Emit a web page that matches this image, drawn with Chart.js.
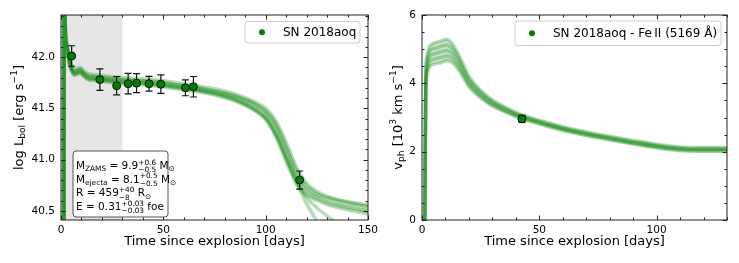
<!DOCTYPE html>
<html>
<head>
<meta charset="utf-8">
<script src="https://cdn.jsdelivr.net/npm/chart.js@4.4.0/dist/chart.umd.min.js"></script>
<style>
  body { margin: 0; background: #fff; overflow: hidden; }
  #wrap { position: relative; width: 739px; height: 263px; }
  canvas { position: absolute; top: 0; }
</style>
</head>
<body>
<div id="wrap">
  <canvas id="lumChart" width="392" height="263" style="left:0"></canvas>
  <canvas id="velChart" width="369" height="263" style="left:370px"></canvas>
</div>
<script>
// ---- luminosity panel ----
const lumDays = [1.4, 1.6, 2, 3, 4, 5, 6.5, 8, 9.5, 11, 13, 16, 20, 30, 45, 60, 75, 85, 95, 100, 105, 110, 115, 120, 125, 130, 140, 150];
const lumModelA = [39.5, 43.5, 42.35, 42.1, 41.97, 41.9, 41.85, 41.86, 41.87, 41.84, 41.81, 41.80, 41.79, 41.77, 41.75, 41.71, 41.66, 41.61, 41.52, 41.45, 41.30, 41.07, 40.83, 40.69, 40.63, 40.59, 40.54, 40.50];
const lumModelB = [39.5, 43.5, 42.38, 42.13, 42.0, 41.93, 41.88, 41.89, 41.90, 41.87, 41.84, 41.83, 41.82, 41.80, 41.78, 41.74, 41.69, 41.64, 41.56, 41.50, 41.38, 41.17, 40.93, 40.77, 40.69, 40.64, 40.59, 40.56];
const lumModelC = [39.5, 43.5, 42.32, 42.07, 41.94, 41.87, 41.82, 41.83, 41.84, 41.81, 41.78, 41.77, 41.76, 41.74, 41.72, 41.68, 41.63, 41.57, 41.47, 41.39, 41.22, 40.98, 40.76, 40.65, 40.60, 40.56, 40.51, 40.47];
const lumModelD = [39.5, 43.5, 42.34, 42.09, 41.96, 41.89, 41.84, 41.85, 41.86, 41.83, 41.80, 41.79, 41.78, 41.76, 41.74, 41.70, 41.65, 41.59, 41.49, 41.41, 41.25, 41.01, 40.78, 40.57, 40.40, 40.22, 39.95, 39.7];
const lumModelE = [39.5, 43.5, 42.36, 42.11, 41.98, 41.91, 41.86, 41.87, 41.88, 41.85, 41.82, 41.81, 41.80, 41.78, 41.76, 41.72, 41.67, 41.62, 41.54, 41.47, 41.34, 41.12, 40.88, 40.73, 40.66, 40.63, 40.58, 40.54];
const lumModelF = [39.5, 43.5, 42.33, 42.08, 41.95, 41.88, 41.83, 41.84, 41.85, 41.82, 41.79, 41.78, 41.77, 41.75, 41.73, 41.69, 41.64, 41.58, 41.48, 41.40, 41.24, 41.02, 40.80, 40.63, 40.53, 40.45, 40.30, 40.15];

const lumObsDays = [5.2, 19, 27.2, 32.8, 36.9, 43, 48.8, 60.8, 64.7, 116.6];
const lumObsVals = [42.01, 41.78, 41.72, 41.74, 41.745, 41.74, 41.735, 41.70, 41.71, 40.80];
const lumObsErr  = [0.1, 0.105, 0.09, 0.1, 0.093, 0.072, 0.09, 0.078, 0.1, 0.088];

const lumXTicks = [0, 50, 100, 150];
const lumYTicks = [40.5, 41.0, 41.5, 42.0];

// ---- velocity panel ----
const velDays = [1.2, 1.6, 2.2, 3, 4, 6, 8, 10.5, 13, 15.5, 20, 25, 30, 35, 42, 50, 60, 70, 80, 90, 100, 110, 120, 130];
const velModelU2 = [0, 4.3, 4.85, 5.05, 5.14, 5.2, 5.24, 5.29, 5.15, 4.86, 4.22, 3.8, 3.52, 3.32, 3.1, 2.93, 2.73, 2.58, 2.45, 2.33, 2.22, 2.14, 2.12, 2.12];
const velModelU1 = [0, 4.15, 4.7, 4.9, 4.99, 5.04, 5.08, 5.12, 5.0, 4.74, 4.13, 3.74, 3.47, 3.28, 3.06, 2.89, 2.70, 2.55, 2.42, 2.30, 2.19, 2.11, 2.09, 2.09];
const velModelC  = [0, 4.0, 4.55, 4.75, 4.83, 4.88, 4.92, 4.96, 4.86, 4.62, 4.05, 3.68, 3.42, 3.24, 3.03, 2.86, 2.67, 2.52, 2.39, 2.27, 2.16, 2.08, 2.06, 2.06];
const velModelL1 = [0, 3.85, 4.4, 4.6, 4.68, 4.72, 4.76, 4.8, 4.72, 4.5, 3.97, 3.62, 3.37, 3.2, 3.0, 2.83, 2.64, 2.49, 2.36, 2.24, 2.13, 2.05, 2.03, 2.03];
const velModelL2 = [0, 3.7, 4.25, 4.45, 4.53, 4.57, 4.6, 4.66, 4.6, 4.4, 3.9, 3.57, 3.33, 3.17, 2.97, 2.81, 2.62, 2.47, 2.34, 2.22, 2.11, 2.03, 2.01, 2.01];

const velObsDays = [42.6];
const velObsVals = [2.96];
const velObsErr  = [0.1];

const velXTicks = [0, 50, 100];
const velYTicks = [0, 2, 4, 6];

const FONT = "'DejaVu Sans', sans-serif";
Chart.defaults.font.family = FONT;
Chart.defaults.color = '#000';

const modelColor = 'rgba(20, 135, 20, 0.3)';
const bandColor = 'rgba(20, 135, 20, 0.22)';

function toXY(xs, ys) {
    return xs.map((x, i) => ({ x: x, y: ys[i] }));
}

// fillTo: relative dataset ('+n') the band is filled down to (optional)
function modelSet(xs, ys, fillTo) {
    return {
        data: toXY(xs, ys),
        borderColor: modelColor,
        borderWidth: 3.5,
        pointRadius: 0,
        cubicInterpolationMode: 'monotone',
        fill: fillTo || false,
        backgroundColor: bandColor,
        order: 1
    };
}

function obsSet(xs, ys, errs) {
    return {
        data: toXY(xs, ys),
        errors: errs,
        showLine: false,
        pointRadius: 4,
        pointBackgroundColor: '#008000',
        pointBorderColor: '#111',
        pointBorderWidth: 1,
        order: 0
    };
}

// text with sub/superscripts
function drawRich(ctx, segs, x, y, fs) {
    let cx = x;
    for (const s of segs) {
        if (s.up !== undefined) {
            ctx.font = (fs * 0.7) + 'px ' + FONT;
            const w = Math.max(ctx.measureText(s.up).width, ctx.measureText(s.dn).width);
            ctx.fillText(s.up, cx, y - fs * 0.42);
            ctx.fillText(s.dn, cx, y + fs * 0.3);
            cx += w;
        } else if (s.k === 'sub') {
            ctx.font = (fs * 0.7) + 'px ' + FONT;
            ctx.fillText(s.t, cx, y + fs * 0.2);
            cx += ctx.measureText(s.t).width;
        } else if (s.k === 'sup') {
            ctx.font = (fs * 0.7) + 'px ' + FONT;
            ctx.fillText(s.t, cx, y - fs * 0.42);
            cx += ctx.measureText(s.t).width;
        } else {
            ctx.font = fs + 'px ' + FONT;
            ctx.fillText(s.t, cx, y);
            cx += ctx.measureText(s.t).width;
        }
    }
    return cx - x;
}

function richWidth(ctx, segs, fs) {
    ctx.save();
    ctx.globalAlpha = 0;
    const w = drawRich(ctx, segs, 0, 0, fs);
    ctx.restore();
    return w;
}

function roundBox(ctx, x, y, w, h, r, fill, stroke) {
    ctx.beginPath();
    ctx.roundRect(x, y, w, h, r);
    ctx.fillStyle = fill;
    ctx.fill();
    ctx.strokeStyle = stroke;
    ctx.lineWidth = 1;
    ctx.stroke();
}

const panelDecor = {
    id: 'panelDecor',
    beforeDatasetsDraw(chart, args, o) {
        if (!o.span) return;
        const { ctx, chartArea: a, scales } = chart;
        const x0 = scales.x.getPixelForValue(o.span[0]);
        const x1 = scales.x.getPixelForValue(o.span[1]);
        ctx.save();
        ctx.fillStyle = '#e6e6e6';
        ctx.fillRect(x0, a.top, x1 - x0, a.bottom - a.top);
        ctx.restore();
    },
    beforeDatasetDraw(chart, args) {
        const ds = chart.data.datasets[args.index];
        if (!ds.errors) return;
        const { ctx, scales } = chart;
        ctx.save();
        ctx.strokeStyle = '#111';
        ctx.lineWidth = 1.2;
        ds.data.forEach((p, i) => {
            const px = scales.x.getPixelForValue(p.x);
            const yt = scales.y.getPixelForValue(p.y + ds.errors[i]);
            const yb = scales.y.getPixelForValue(p.y - ds.errors[i]);
            ctx.beginPath();
            ctx.moveTo(px, yt); ctx.lineTo(px, yb);
            ctx.moveTo(px - 3.5, yt); ctx.lineTo(px + 3.5, yt);
            ctx.moveTo(px - 3.5, yb); ctx.lineTo(px + 3.5, yb);
            ctx.stroke();
        });
        ctx.restore();
    },
    afterDraw(chart, args, o) {
        const { ctx, chartArea: a, scales } = chart;
        const sx = scales.x, sy = scales.y;
        ctx.save();
        // frame
        ctx.strokeStyle = '#222';
        ctx.lineWidth = 1;
        ctx.strokeRect(a.left, a.top, a.right - a.left, a.bottom - a.top);
        // inward ticks on all four sides
        ctx.beginPath();
        const tickX = (v, len) => {
            const p = Math.round(sx.getPixelForValue(v)) + 0.5;
            ctx.moveTo(p, a.bottom); ctx.lineTo(p, a.bottom - len);
            ctx.moveTo(p, a.top); ctx.lineTo(p, a.top + len);
        };
        const tickY = (v, len) => {
            const p = Math.round(sy.getPixelForValue(v)) + 0.5;
            ctx.moveTo(a.left, p); ctx.lineTo(a.left + len, p);
            ctx.moveTo(a.right, p); ctx.lineTo(a.right - len, p);
        };
        for (let v = Math.ceil(sx.min / o.xMinor) * o.xMinor; v <= sx.max + 1e-9; v += o.xMinor) tickX(v, 2.5);
        for (let v = Math.ceil(sy.min / o.yMinor - 1e-9) * o.yMinor; v <= sy.max + 1e-9; v += o.yMinor) tickY(v, 2.5);
        sx.ticks.forEach(t => tickX(t.value, 4.5));
        sy.ticks.forEach(t => tickY(t.value, 4.5));
        ctx.stroke();

        ctx.fillStyle = '#000';
        ctx.textBaseline = 'alphabetic';
        // x title
        ctx.font = '13px ' + FONT;
        ctx.textAlign = 'center';
        ctx.fillText(o.xTitle, (a.left + a.right) / 2, 245);
        ctx.textAlign = 'left';
        // y title, rotated
        ctx.save();
        ctx.translate(o.yTitleX, (a.top + a.bottom) / 2);
        ctx.rotate(-Math.PI / 2);
        const w = richWidth(ctx, o.yTitle, 13);
        drawRich(ctx, o.yTitle, -w / 2, 4.7, 13);
        ctx.restore();

        // legend
        const L = o.legend;
        roundBox(ctx, L.x, L.y, L.w, L.h, 3, 'rgba(255,255,255,0.85)', '#cccccc');
        ctx.beginPath();
        ctx.arc(L.dotX, L.y + L.h / 2, 3, 0, Math.PI * 2);
        ctx.fillStyle = '#008000';
        ctx.fill();
        ctx.fillStyle = '#000';
        ctx.font = '12px ' + FONT;
        ctx.textBaseline = 'middle';
        ctx.fillText(L.text, L.textX, L.y + L.h / 2 + 0.5);
        ctx.textBaseline = 'alphabetic';

        // parameter box
        if (o.params) {
            const P = o.params;
            roundBox(ctx, P.x, P.y, P.w, P.h, 3, '#ffffff', '#555555');
            ctx.fillStyle = '#000';
            P.lines.forEach((segs, i) => drawRich(ctx, segs, P.x + 3, P.base + i * 13.7, 10.5));
        }
        ctx.restore();
    }
};

function axes(xMin, xMax, yMin, yMax, xTicks, yTicks, yWidth, yFmt) {
    return {
        x: {
            type: 'linear', min: xMin, max: xMax,
            grid: { display: false, drawTicks: false }, border: { display: false },
            afterBuildTicks: s => { s.ticks = xTicks.map(v => ({ value: v })); },
            afterFit: s => { s.height = 43; s.paddingLeft = 0; s.paddingRight = 0; },
            ticks: { font: { size: 10.5 }, padding: 4, maxRotation: 0, callback: v => String(v) }
        },
        y: {
            type: 'linear', min: yMin, max: yMax,
            grid: { display: false, drawTicks: false }, border: { display: false },
            afterBuildTicks: s => { s.ticks = yTicks.map(v => ({ value: v })); },
            afterFit: s => { s.width = yWidth; s.paddingTop = 0; s.paddingBottom = 0; },
            ticks: { font: { size: 10.5 }, padding: 6, callback: yFmt }
        }
    };
}

const sun = '\u2299';

new Chart(document.getElementById('lumChart'), {
    type: 'line',
    data: {
        datasets: [
            obsSet(lumObsDays, lumObsVals, lumObsErr),
            modelSet(lumDays, lumModelA),
            modelSet(lumDays, lumModelB, '+1'),
            modelSet(lumDays, lumModelC),
            modelSet(lumDays, lumModelD),
            modelSet(lumDays, lumModelE),
            modelSet(lumDays, lumModelF)
        ]
    },
    options: {
        responsive: false,
        animation: false,
        devicePixelRatio: 1,
        layout: { padding: { left: 0, right: 24, top: 15, bottom: 0 } },
        scales: axes(0, 150, 40.41, 42.41, lumXTicks, lumYTicks, 61, v => v.toFixed(1)),
        plugins: {
            legend: { display: false },
            tooltip: { enabled: false },
            panelDecor: {
                span: [0, 30],
                xMinor: 10, yMinor: 0.1,
                xTitle: 'Time since explosion [days]',
                yTitleX: 18,
                yTitle: [{ t: 'log L' }, { t: 'bol', k: 'sub' }, { t: ' [erg s' }, { t: '\u22121', k: 'sup' }, { t: ']' }],
                legend: { x: 245, y: 21.5, w: 115, h: 21.5, dotX: 262, textX: 283, text: 'SN 2018aoq' },
                params: {
                    x: 73, y: 151, w: 95, h: 66, base: 169,
                    lines: [
                        [{ t: 'M' }, { t: 'ZAMS', k: 'sub' }, { t: ' = 9.9' }, { up: '+0.6', dn: '\u22120.5' }, { t: ' M' }, { t: sun, k: 'sub' }],
                        [{ t: 'M' }, { t: 'ejecta', k: 'sub' }, { t: ' = 8.1' }, { up: '+0.5', dn: '\u22120.5' }, { t: ' M' }, { t: sun, k: 'sub' }],
                        [{ t: 'R = 459' }, { up: '+40', dn: '\u22128' }, { t: ' R' }, { t: sun, k: 'sub' }],
                        [{ t: 'E = 0.31' }, { up: '+0.03', dn: '\u22120.03' }, { t: ' foe' }]
                    ]
                }
            }
        }
    },
    plugins: [panelDecor]
});

new Chart(document.getElementById('velChart'), {
    type: 'line',
    data: {
        datasets: [
            obsSet(velObsDays, velObsVals, velObsErr),
            modelSet(velDays, velModelU2, '+4'),
            modelSet(velDays, velModelU1),
            modelSet(velDays, velModelC),
            modelSet(velDays, velModelL1),
            modelSet(velDays, velModelL2)
        ]
    },
    options: {
        responsive: false,
        animation: false,
        devicePixelRatio: 1,
        layout: { padding: { left: 0, right: 12, top: 15, bottom: 0 } },
        scales: axes(0, 130, 0, 6, velXTicks, velYTicks, 52, v => String(v)),
        plugins: {
            legend: { display: false },
            tooltip: { enabled: false },
            panelDecor: {
                xMinor: 10, yMinor: 0.5,
                xTitle: 'Time since explosion [days]',
                yTitleX: 27,
                yTitle: [{ t: 'v' }, { t: 'ph', k: 'sub' }, { t: ' [10' }, { t: '3', k: 'sup' }, { t: ' km s' }, { t: '\u22121', k: 'sup' }, { t: ']' }],
                legend: { x: 145, y: 21, w: 206, h: 24.5, dotX: 162, textX: 183, text: 'SN 2018aoq - Fe\u2009II (5169 \u00C5)' }
            }
        }
    },
    plugins: [panelDecor]
});
</script>
</body>
</html>
